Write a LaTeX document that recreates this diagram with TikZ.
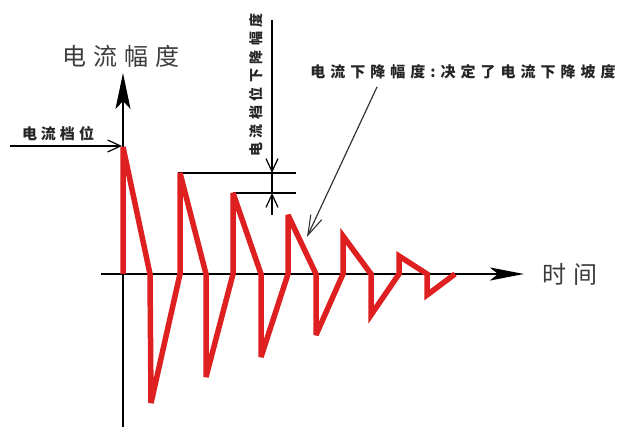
\documentclass[tikz,border=0pt]{standalone}
\usepackage{fontspec}
\newfontfamily\cjk{Noto Sans CJK SC}
\usetikzlibrary{arrows.meta}
\makeatletter
\newcommand\sptext[2]{\def\sp@gap{#1}\sp@step#2\relax}
\def\sp@step#1{\ifx#1\relax\unskip\else #1\hspace{\sp@gap}\expandafter\sp@step\fi}
\makeatother
\definecolor{wavered}{RGB}{222,32,32}
\definecolor{biggray}{RGB}{60,60,60}
\tikzset{
  axis/.style={line width=2.4pt,black},
  refline/.style={line width=2.4pt,black},
  wave/.style={line width=5.5pt,wavered,line join=miter,miter limit=4},
  barb/.style={-{Straight Barb[length=13pt,width=12pt,line width=1.2pt]}},
  biglabel/.style={font=\cjk\fontsize{24}{26}\selectfont,text=biggray,inner sep=0pt},
  smalllabel/.style={font=\cjk\bfseries\fontsize{15}{17}\selectfont,text=black!85,inner sep=0pt},
}
\begin{document}
\begin{tikzpicture}[x=1pt,y=-1pt]
\useasboundingbox (0,0) rectangle (618,427);
% axes
\coordinate (yb) at (123,427);
\coordinate (yt) at (123,73);
\coordinate (xl) at (101,274);
\coordinate (xr) at (524,274);
\draw[axis,-{Stealth[length=36pt,width=15pt,inset=8pt]}] (yb) -- (yt);
\draw[axis,-{Stealth[length=34pt,width=13pt,inset=8pt]}] (xl) -- (xr);
\node[biglabel] (ylab) at (121,56) {\sptext{7pt}{电流幅度}};
\node[biglabel] (xlab) at (570,274) {\sptext{8pt}{时间}};
% current level arrow
\coordinate (lvs) at (10,146);
\coordinate (lve) at (122,146);
\draw[line width=2pt,barb] (lvs) -- (lve);
\node[smalllabel] (lvlab) at (58,134) {\sptext{4pt}{电流档位}};
% reference lines
\coordinate (h1a) at (178,173);
\coordinate (h1b) at (296,173);
\coordinate (h2a) at (233,193);
\coordinate (h2b) at (296,193);
\draw[refline] (h1a) -- (h1b);
\draw[refline] (h2a) -- (h2b);
% dimension arrows
\coordinate (dt) at (272,20);
\coordinate (d1) at (272,173);
\coordinate (d2) at (272,193);
\coordinate (db) at (272,215);
\draw[line width=2pt,barb] (dt) -- (d1);
\draw[line width=2pt] (d1) -- (d2);
\draw[line width=2pt,barb] (db) -- (d2);
\node[smalllabel,rotate=90,font=\cjk\bfseries\fontsize{14}{16}\selectfont] (dlab) at (256,85) {\sptext{4.5pt}{电流档位下降幅度}};
% waveform
\draw[wave] (123,274) -- (123,147) -- (150,274) -- (151,403) -- (180,274)
  -- (180,173) -- (206,274) -- (206,377) -- (233,274) -- (233,193)
  -- (261,274) -- (261,357) -- (288,274) -- (288,215) -- (316,274)
  -- (316,335) -- (343,274) -- (343,236) -- (371,274) -- (371,315)
  -- (399,274) -- (399,256) -- (427,274) -- (427,295) -- (455,274);
% annotation
\node[smalllabel] (ann) at (463,72) {\sptext{5pt}{电流下降幅度:决定了电流下降坡度}};
\coordinate (as) at (377,87);
\coordinate (ae) at (307,237);
\draw[line width=1.2pt,black!80,-{Straight Barb[length=20pt,width=12pt,line width=1.1pt]}] (as) -- (ae);
\end{tikzpicture}
\end{document}
